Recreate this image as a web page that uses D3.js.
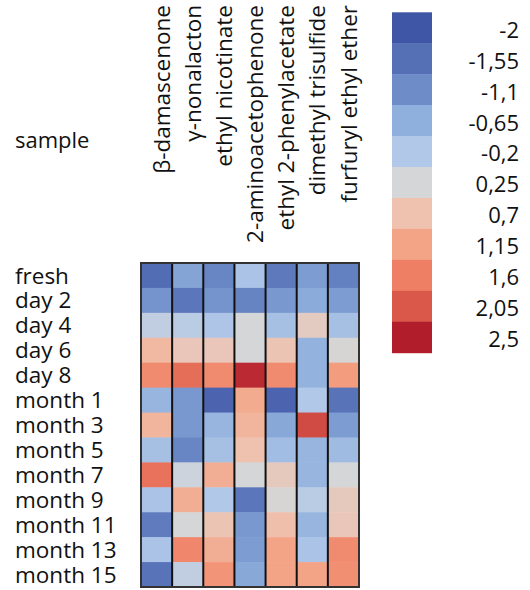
<!DOCTYPE html>
<html>
<head>
<meta charset="utf-8">
<script src="https://cdn.jsdelivr.net/npm/d3@7/dist/d3.min.js"></script>
<style>
  html, body { margin: 0; padding: 0; background: #fff; }
  text { font-family: "Open Sans", "Noto Sans", sans-serif; fill: #111; }
</style>
</head>
<body>
<svg id="chart" width="530" height="590"></svg>
<script>
const compounds = ["β-damascenone", "γ-nonalacton", "ethyl nicotinate", "2-aminoacetophenone",
  "ethyl 2-phenylacetate", "dimethyl trisulfide", "furfuryl ethyl ether"];
const samples = ["fresh", "day 2", "day 4", "day 6", "day 8", "month 1", "month 3", "month 5",
  "month 7", "month 9", "month 11", "month 13", "month 15"];
// values per sample (rows), one per compound (columns)
const fresh   = [-1.6, -0.8, -1.2, -0.3, -1.4, -0.9, -1.3];
const day2    = [-1.0, -1.45, -1.0, -1.25, -0.95, -0.7, -0.9];
const day4    = [0.0, -0.1, -0.25, 0.25, -0.35, 0.5, -0.35];
const day6    = [0.85, 0.6, 0.6, 0.25, 0.65, -0.6, 0.3];
const day8    = [1.45, 1.8, 1.45, 2.4, 1.45, -0.6, 1.25];
const month1  = [-0.55, -0.95, -1.75, 1.05, -1.75, -0.2, -1.5];
const month3  = [0.9, -0.95, -0.55, 0.9, -0.75, 2.15, -0.9];
const month5  = [-0.35, -1.2, -0.35, 0.7, -0.4, -0.55, -0.45];
const month7  = [1.75, 0.15, 1.0, 0.25, 0.55, -0.55, 0.25];
const month9  = [-0.3, 1.0, -0.2, -1.45, 0.3, -0.1, 0.55];
const month11 = [-1.35, 0.25, 0.65, -0.95, 0.75, -0.55, 0.6];
const month13 = [-0.3, 1.5, 1.0, -0.9, 1.15, -0.3, 1.45];
const month15 = [-1.5, 0.0, 1.35, -0.75, 1.15, 1.15, 1.4];
const values = [fresh, day2, day4, day6, day8, month1, month3, month5, month7, month9, month11, month13, month15];

const legendValues = [-2, -1.55, -1.1, -0.65, -0.2, 0.25, 0.7, 1.15, 1.6, 2.05, 2.5];
const legendLabels = ["-2", "-1,55", "-1,1", "-0,65", "-0,2", "0,25", "0,7", "1,15", "1,6", "2,05", "2,5"];
const palette = ["#3f55a6", "#5670b6", "#6e8cc8", "#8fb0dd", "#b2c8e8", "#d4d6d8",
  "#efc2b0", "#f4a486", "#ef7f64", "#d9584a", "#b21d2c"];

const svg = d3.select("#chart");
const color = d3.scaleLinear().domain(legendValues).range(palette).clamp(true);

const x = d3.scaleBand().domain(compounds).range([141, 359]).padding(0);
const y = d3.scaleBand().domain(samples).range([263, 587]).padding(0);

const cells = [];
samples.forEach((s, i) => compounds.forEach((c, j) => cells.push({ s, c, v: values[i][j] })));

svg.append("g").selectAll("rect").data(cells).join("rect")
  .attr("x", d => x(d.c)).attr("y", d => y(d.s))
  .attr("width", x.bandwidth() + 0.5).attr("height", y.bandwidth() + 0.5)
  .attr("fill", d => color(d.v));

// column separators
svg.append("g").selectAll("line").data(compounds.slice(1)).join("line")
  .attr("x1", d => x(d)).attr("x2", d => x(d))
  .attr("y1", 263).attr("y2", 587)
  .attr("stroke", "#111").attr("stroke-width", 2);

svg.append("rect").attr("x", 141).attr("y", 263).attr("width", 218).attr("height", 324)
  .attr("fill", "none").attr("stroke", "#333").attr("stroke-width", 2);

// row labels
svg.append("g").selectAll("text").data(samples).join("text")
  .attr("x", 15).attr("y", d => y(d) + y.bandwidth() / 2)
  .attr("dy", "0.36em").attr("font-size", 22.5).text(d => d);

// column labels
svg.append("g").selectAll("text").data(compounds).join("text")
  .attr("transform", d => `translate(${x(d) + x.bandwidth() / 2 + 5},5) rotate(-90)`)
  .attr("text-anchor", "end").attr("dy", "0.36em").attr("font-size", 22.5).text(d => d);

svg.append("text").attr("x", 15).attr("y", 140).attr("dy", "0.36em")
  .attr("font-size", 22).text("sample");

// legend
const ly = d3.scaleBand().domain(legendLabels).range([12.3, 352.7]);
svg.append("g").selectAll("rect").data(legendLabels).join("rect")
  .attr("x", 392).attr("y", d => ly(d)).attr("width", 40).attr("height", ly.bandwidth() + 0.5)
  .attr("fill", (d, i) => palette[i]);
svg.append("g").selectAll("text").data(legendLabels).join("text")
  .attr("x", 519).attr("y", d => ly(d) + ly.bandwidth() / 2 + 2)
  .attr("text-anchor", "end").attr("dy", "0.36em").attr("font-size", 22).text(d => d);
</script>
</body>
</html>
